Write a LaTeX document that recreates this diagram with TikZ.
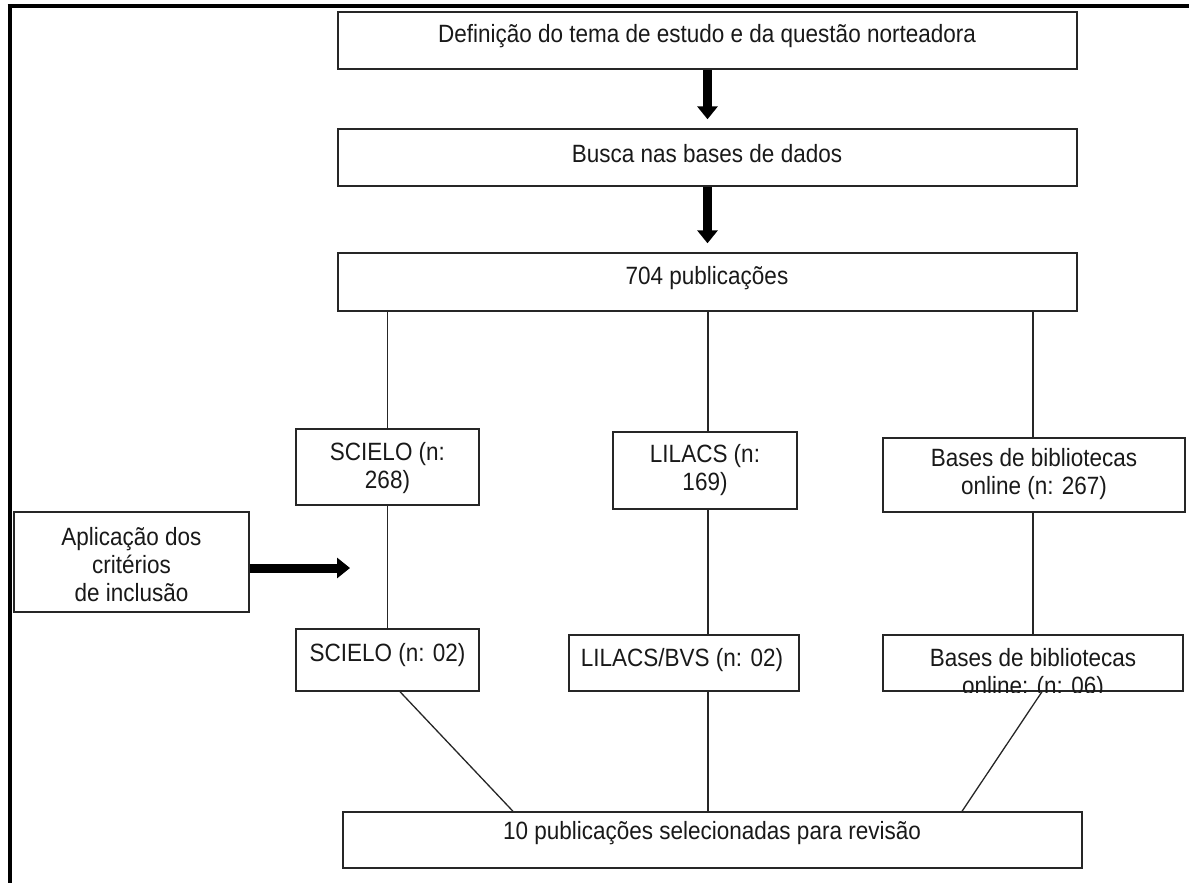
\documentclass[tikz,border=0pt]{standalone}
\usepackage{fontspec}
\setmainfont[FakeStretch=0.9]{Liberation Sans}
\usetikzlibrary{arrows.meta}
\tikzset{
  box/.style={draw=black!85, line width=1.4pt, inner sep=0pt, fill=none},
  txt/.style={font=\fontsize{25}{28}\selectfont, align=center, inner sep=0pt, text=black!90},
  conn/.style={draw=black!85, line width=1.3pt},
  bigarrow/.style={draw=black, line width=9pt, -{Triangle[length=13pt,width=20pt]}},
  frame/.style={draw=black, line width=4pt}
}
\begin{document}
\begin{tikzpicture}[x=1pt,y=-1pt]
\useasboundingbox (0,0) rectangle (1189,883);
% frame (top and left edges)
\draw[frame] (7.5,6.5) -- (1189,6.5);
\draw[frame] (9.5,4.5) -- (9.5,883);

% boxes
\node[box, minimum width=739pt, minimum height=57pt] (b1) at (707.5,40.5) {};
\node[box, minimum width=739pt, minimum height=57pt] (b2) at (707.5,157.5) {};
\node[box, minimum width=739pt, minimum height=58pt] (b3) at (707.5,282) {};
\node[box, minimum width=183pt, minimum height=76pt] (sc1) at (387.5,467) {};
\node[box, minimum width=184pt, minimum height=77pt] (li1) at (705,470.5) {};
\node[box, minimum width=302pt, minimum height=74pt] (ba1) at (1034,475) {};
\node[box, minimum width=235pt, minimum height=100pt] (ap) at (131.5,562) {};
\node[box, minimum width=183pt, minimum height=62pt] (sc2) at (387.5,660) {};
\node[box, minimum width=230pt, minimum height=56pt] (li2) at (684,663) {};
\node[box, minimum width=300pt, minimum height=56pt] (ba2) at (1033,663) {};
\node[box, minimum width=739pt, minimum height=56pt] (fin) at (712.5,840) {};

% texts
\node[txt] (t1) at (707,36) {Definição do tema de estudo e da questão norteadora};
\node[txt] (t2) at (707,154) {Busca nas bases de dados};
\node[txt] (t3) at (707,278) {704 publicações};
\node[txt] (tsc1) at (387.5,468) {SCIELO (n:\\268)};
\node[txt] (tli1) at (705,470) {LILACS (n:\\169)};
\node[txt] (tba1) at (1034,474) {Bases de bibliotecas\\online (n: 267)};
\node[txt] (tap) at (131.5,565) {Aplicação dos\\critérios\\de inclusão};
\node[txt] (tsc2) at (387.5,655) {SCIELO (n: 02)};
\node[txt] (tli2) at (682,660) {LILACS/BVS (n: 02)};
\begin{scope}
  \clip ([xshift=1pt,yshift=-1pt]ba2.south west) rectangle ([xshift=-1pt,yshift=1pt]ba2.north east);
  \node[txt] (tba2) at (1033,674) {Bases de bibliotecas\\online: (n: 06)};
\end{scope}
\node[txt] (tfin) at (712,833) {10 publicações selecionadas para revisão};

% thick arrows
\draw[bigarrow, shorten >=9pt] (b1.south) -- (b2.north);
\draw[bigarrow, shorten >=9pt] (b2.south) -- (b3.north);
\coordinate (apx) at (350,568);
\draw[bigarrow] (ap.east |- apx) -- (apx);

% helper x positions
\coordinate (xl) at (708,0);
\coordinate (xb) at (1033,0);
\coordinate (xs2) at (400,0);
\coordinate (xs3) at (513,0);
\coordinate (xb2) at (1042,0);
\coordinate (xb3) at (962,0);

% connectors
\draw[conn] (b3.south -| sc1.north) -- (sc1.north);
\draw[conn] (b3.south -| xl) -- (li1.north -| xl);
\draw[conn] (b3.south -| xb) -- (ba1.north -| xb);
\draw[conn] (sc1.south) -- (sc2.north);
\draw[conn] (li1.south -| xl) -- (li2.north -| xl);
\draw[conn] (ba1.south -| xb) -- (ba2.north -| xb);
\draw[conn] (sc2.south -| xs2) -- (fin.north -| xs3);
\draw[conn] (li2.south -| xl) -- (fin.north -| xl);
\draw[conn] (ba2.south -| xb2) -- (fin.north -| xb3);
\end{tikzpicture}
\end{document}
